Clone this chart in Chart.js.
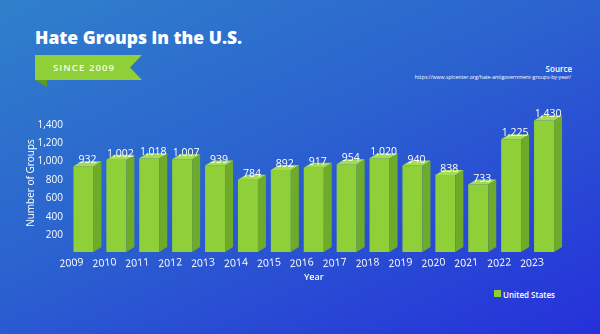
<!DOCTYPE html>
<html>
<head>
<meta charset="utf-8">
<script src="https://cdn.jsdelivr.net/npm/chart.js@4"></script>
<style>
  html, body { margin:0; padding:0; }
  body { width:600px; height:334px; overflow:hidden; position:relative;
    background: linear-gradient(155deg, #2f80cb 0%, #2b62cf 45%, #2630da 100%);
    font-family: "Open Sans", sans-serif; color:#fff; }
  #wrap { position:absolute; left:0; top:0; width:600px; height:334px; }
  .abs { position:absolute; white-space:nowrap; }
  #title { left:35px; top:25px; font-weight:800; font-size:17.5px; line-height:24px; }
  #banner { left:35px; top:55px; width:107px; height:33px; }
  #since { left:53px; top:61px; font-size:9.5px; line-height:14px; letter-spacing:1.1px; font-weight:600; color:#f4ffe8; }
  #src1 { right:28px; top:63px; font-size:8px; line-height:11px; font-weight:600; }
  #src2 { right:29px; top:74px; font-size:5.2px; line-height:7px; }
  #legbox { left:494px; top:290px; width:7px; height:7px; background:#8fcf37; }
  #legtxt { left:503px; top:289px; font-size:8px; line-height:11px; font-weight:600; }
</style>
</head>
<body>
<svg id="banner" class="abs" viewBox="0 0 107 33" width="107" height="33">
  <polygon points="0,25 12,25 12,32" fill="#5e9a22"/>
  <polygon points="0,0 107,0 95,12.5 107,25 0,25" fill="#8fcf37"/>
</svg>
<div id="title" class="abs">Hate Groups in the U.S.</div>
<div id="since" class="abs">SINCE 2009</div>
<div id="src1" class="abs">Source</div>
<div id="src2" class="abs">https://www.splcenter.org/hate-antigovernment-groups-by-year/</div>
<div id="legbox" class="abs"></div>
<div id="legtxt" class="abs">United States</div>
<div id="wrap"><canvas id="c" width="600" height="334"></canvas></div>
<script>
const years = ["2009","2010","2011","2012","2013","2014","2015","2016","2017","2018","2019","2020","2021","2022","2023"];
const hateGroups = [932,1002,1018,1007,939,784,892,917,954,1020,940,838,733,1225,1430];
const yTickValues = [200,400,600,800,1000,1200,1400];
const seriesName = "United States";

const fmt = v => Number(v).toLocaleString('en-US');
const DX = 8, DY = 5;
const FRONT = '#8fcf37', SIDE = '#6eab2a', TOP = '#a6dc55';

const bar3d = {
  id: 'bar3d',
  afterDatasetsDraw(chart) {
    const ctx = chart.ctx;
    const meta = chart.getDatasetMeta(0);
    ctx.save();
    meta.data.forEach((el, i) => {
      const p = el.getProps(['x','y','base','width'], true);
      const l = p.x - p.width/2, r = p.x + p.width/2;
      ctx.fillStyle = SIDE;
      ctx.beginPath();
      ctx.moveTo(r, p.y); ctx.lineTo(r+DX, p.y-DY); ctx.lineTo(r+DX, p.base-DY); ctx.lineTo(r, p.base);
      ctx.closePath(); ctx.fill();
      ctx.fillStyle = TOP;
      ctx.beginPath();
      ctx.moveTo(l, p.y); ctx.lineTo(r, p.y); ctx.lineTo(r+DX, p.y-DY); ctx.lineTo(l+DX, p.y-DY);
      ctx.closePath(); ctx.fill();
      ctx.fillStyle = '#ffffff';
      ctx.font = '10.5px "Open Sans", sans-serif';
      ctx.textAlign = 'center';
      ctx.textBaseline = 'alphabetic';
      ctx.fillText(fmt(hateGroups[i]), p.x + DX/2, p.y - 3);
    });
    ctx.restore();
  }
};

new Chart(document.getElementById('c'), {
  type: 'bar',
  data: {
    labels: years,
    datasets: [{
      label: seriesName,
      data: hateGroups,
      backgroundColor: FRONT,
      borderWidth: 0,
      barPercentage: 0.608,
      categoryPercentage: 1.0
    }]
  },
  options: {
    responsive: false,
    animation: false,
    devicePixelRatio: 1,
    layout: { padding: { top: 114, right: 39.5, left: 0, bottom: 0 } },
    plugins: { legend: { display: false }, tooltip: { enabled: false } },
    scales: {
      x: {
        grid: { display: false, drawTicks: false },
        border: { display: false },
        ticks: { color: '#ffffff', font: { family: '"Open Sans", sans-serif', size: 10.5 },
                 autoSkip: false, minRotation: 5, maxRotation: 5, padding: 4 },
        title: { display: true, text: 'Year', color: '#ffffff',
                 font: { family: '"Open Sans", sans-serif', size: 9, weight: '600' },
                 padding: { top: 0, bottom: 51.6 } },
        afterFit(s) { s.height = 82; }
      },
      y: {
        min: 0, max: 1500,
        grid: { display: false, drawTicks: false },
        border: { display: false },
        afterBuildTicks(s) { s.ticks = yTickValues.map(v => ({ value: v })); },
        ticks: { color: '#ffffff', font: { family: '"Open Sans", sans-serif', size: 10 },
                 padding: 4, labelOffset: 1.5, callback: v => fmt(v) },
        title: { display: true, text: 'Number of Groups', color: '#ffffff',
                 font: { family: '"Open Sans", sans-serif', size: 10 },
                 padding: { top: 25, bottom: 0 } },
        afterFit(s) { s.width = 67; }
      }
    }
  },
  plugins: [bar3d]
});
</script>
</body>
</html>
